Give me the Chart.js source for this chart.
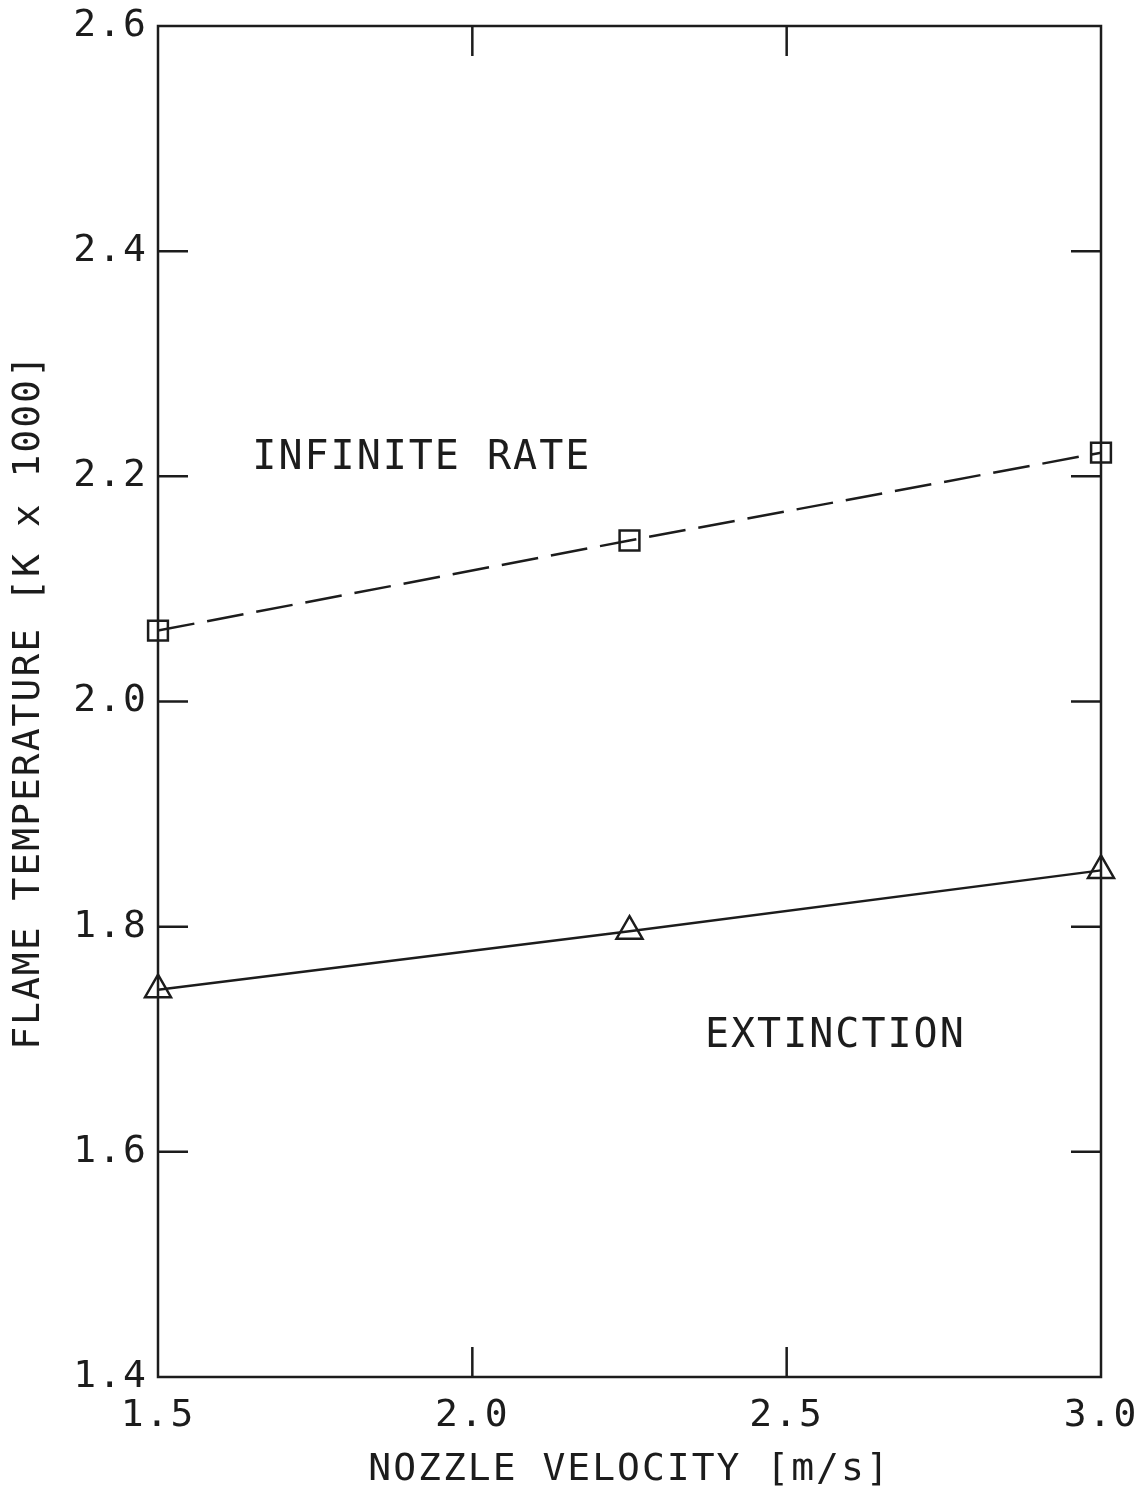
<!DOCTYPE html>
<html>
<head>
<meta charset="utf-8">
<script src="https://cdn.jsdelivr.net/npm/chart.js@4.4.1/dist/chart.umd.min.js"></script>
<style>
  html, body { margin: 0; padding: 0; background: #ffffff; }
  #wrap { width: 1139px; height: 1496px; position: relative; }
</style>
</head>
<body>
<div id="wrap"><canvas id="c" width="1139" height="1496"></canvas></div>
<script>
// ---- data ----
const velocities = [1.5, 2.25, 3.0];
const infiniteRate = [2.063, 2.143, 2.221];
const extinction = [1.744, 1.796, 1.850];
const xTicks = [1.5, 2.0, 2.5, 3.0];
const yTicks = [1.4, 1.6, 1.8, 2.0, 2.2, 2.4, 2.6];
const xTitle = 'NOZZLE VELOCITY [m/s]';
const yTitle = 'FLAME TEMPERATURE [K x 1000]';
const noteTexts = ['INFINITE RATE', 'EXTINCTION'];
const noteX = [1.65, 2.37];
const noteY = [2.216, 1.702];

const INK = '#1c1c1c';
const FONT = "'DejaVu Sans Mono', 'Liberation Mono', monospace";

const spacingPlugin = {
  id: 'spacing',
  beforeLayout(chart) { chart.ctx.letterSpacing = '2px'; },
  beforeDraw(chart) { chart.ctx.letterSpacing = '2px'; }
};

const framePlugin = {
  id: 'frame',
  afterDraw(chart) {
    const ctx = chart.ctx;
    const a = chart.chartArea;
    const xs = chart.scales.x, ys = chart.scales.y;
    const L = 30;
    ctx.save();
    ctx.strokeStyle = INK;
    ctx.lineWidth = 2.5;
    ctx.beginPath();
    ctx.rect(a.left, a.top, a.right - a.left, a.bottom - a.top);
    ctx.stroke();
    ctx.beginPath();
    xTicks.forEach(v => {
      if (v === xs.min || v === xs.max) return;
      const px = xs.getPixelForValue(v);
      ctx.moveTo(px, a.bottom); ctx.lineTo(px, a.bottom - L);
      ctx.moveTo(px, a.top); ctx.lineTo(px, a.top + L);
    });
    yTicks.forEach(v => {
      if (Math.abs(v - ys.min) < 1e-9 || Math.abs(v - ys.max) < 1e-9) return;
      const py = ys.getPixelForValue(v);
      ctx.moveTo(a.left, py); ctx.lineTo(a.left + L, py);
      ctx.moveTo(a.right, py); ctx.lineTo(a.right - L, py);
    });
    ctx.stroke();
    // notes
    ctx.fillStyle = INK;
    ctx.font = "40px " + FONT;
    ctx.letterSpacing = '2px';
    ctx.textAlign = 'left';
    ctx.textBaseline = 'middle';
    noteTexts.forEach((t, i) => {
      ctx.fillText(t, xs.getPixelForValue(noteX[i]), ys.getPixelForValue(noteY[i]));
    });
    ctx.restore();
  }
};

new Chart(document.getElementById('c'), {
  type: 'line',
  data: {
    datasets: [
      {
        label: 'Infinite rate',
        data: velocities.map((v, i) => ({ x: v, y: infiniteRate[i] })),
        borderColor: INK,
        borderWidth: 2.5,
        borderDash: [37, 13],
        pointStyle: 'rect',
        pointRadius: 14,
        pointBorderWidth: 2.5,
        pointBorderColor: INK,
        pointBackgroundColor: 'rgba(0,0,0,0)',
        fill: false,
        tension: 0,
        clip: false
      },
      {
        label: 'Extinction',
        data: velocities.map((v, i) => ({ x: v, y: extinction[i] })),
        borderColor: INK,
        borderWidth: 2.5,
        pointStyle: 'triangle',
        pointRadius: 15,
        pointBorderWidth: 2.5,
        pointBorderColor: INK,
        pointBackgroundColor: 'rgba(0,0,0,0)',
        fill: false,
        tension: 0,
        clip: false
      }
    ]
  },
  options: {
    responsive: false,
    animation: false,
    devicePixelRatio: 1,
    layout: { padding: { top: 26, right: 38, left: 0, bottom: 0 } },
    plugins: { legend: { display: false }, tooltip: { enabled: false } },
    scales: {
      x: {
        type: 'linear',
        min: 1.5, max: 3.0,
        afterBuildTicks: s => { s.ticks = xTicks.map(v => ({ value: v })); },
        afterFit: s => { s.height = 119; s.paddingLeft = 0; s.paddingRight = 0; },
        grid: { display: false, drawTicks: false },
        border: { display: false },
        ticks: {
          padding: 16,
          color: INK,
          font: { family: FONT, size: 38 },
          maxRotation: 0,
          callback: v => Number(v).toFixed(1)
        },
        title: {
          display: true,
          text: xTitle,
          color: INK,
          font: { family: FONT, size: 38 },
          padding: { top: 0, bottom: 3 }
        }
      },
      y: {
        type: 'linear',
        min: 1.4, max: 2.6,
        afterBuildTicks: s => { s.ticks = yTicks.map(v => ({ value: v })); },
        afterFit: s => { s.width = 158; s.paddingTop = 0; s.paddingBottom = 0; },
        grid: { display: false, drawTicks: false },
        border: { display: false },
        ticks: {
          padding: 10,
          color: INK,
          font: { family: FONT, size: 38 },
          callback: v => Number(v).toFixed(1)
        },
        title: {
          display: true,
          text: yTitle,
          color: INK,
          font: { family: FONT, size: 38 },
          padding: { top: 6, bottom: 0 }
        }
      }
    }
  },
  plugins: [spacingPlugin, framePlugin]
});
</script>
</body>
</html>
